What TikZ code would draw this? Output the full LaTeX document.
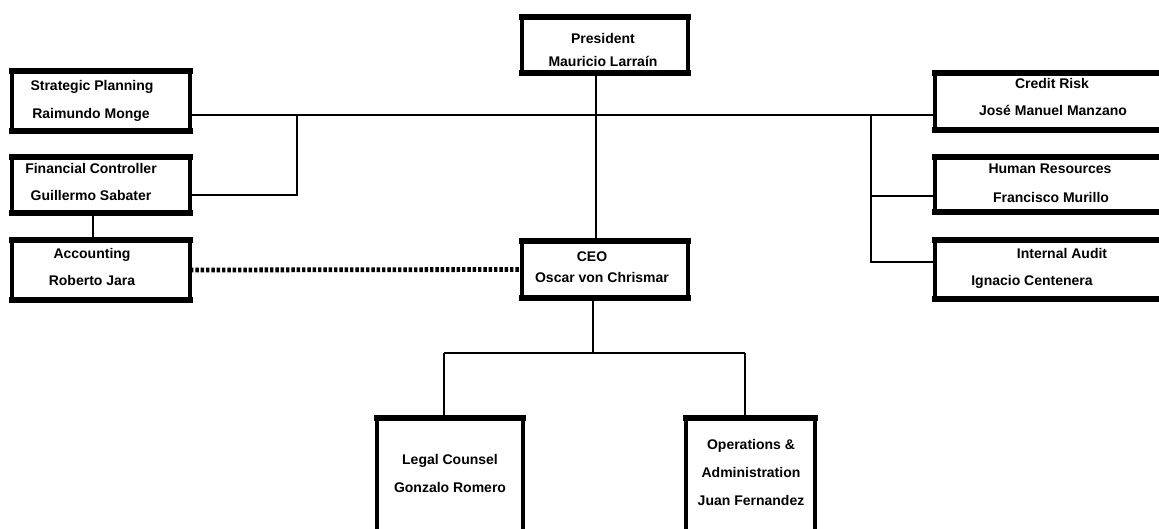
\documentclass[tikz,border=0pt]{standalone}
\usepackage{fontspec}
\setmainfont{Liberation Sans}
\usetikzlibrary{fit}
\begin{document}
\begin{tikzpicture}[x=0.75pt,y=-0.75pt,
  box/.style={draw, line width=2.6pt, inner sep=0pt, outer sep=0pt},
  bar/.style={line width=3.8pt, line cap=rect},
  txt/.style={font=\bfseries\fontsize{10.5}{12}\selectfont, inner sep=0pt, text height=7.5pt, text depth=0pt},
  conn/.style={line width=1.5pt},
  dashlink/.style={line width=3.6pt, dash pattern=on 2.6pt off 1.4pt}]
\useasboundingbox (0,0) rectangle (1159,528);
\clip (0,0) rectangle (1159,528);
% boxes
\node[box, fit={(522,17) (688,73)}] (pres) {};
\node[box, fit={(522,241) (688,298)}] (ceo) {};
\node[box, fit={(12,71) (190,131)}] (sp) {};
\node[box, fit={(12,157) (190,213)}] (fc) {};
\node[box, fit={(12,240) (190,300)}] (acc) {};
\node[box, fit={(935,73) (1185,130)}] (cr) {};
\node[box, fit={(935,157) (1185,212)}] (hr) {};
\node[box, fit={(935,240) (1185,299)}] (ia) {};
\node[box, fit={(377,418) (523,560)}] (legal) {};
\node[box, fit={(686,418) (815,560)}] (ops) {};
\foreach \n in {pres,ceo,sp,fc,acc,cr,hr,ia,legal,ops}
  \draw[bar] (\n.north west) -- (\n.north east) (\n.south west) -- (\n.south east);
% texts
\node[txt] (pres1) at (603,39) {President};
\node[txt] (pres2) at (603,62) {Mauricio Larraín};
\node[txt] (ceo1) at (592,256) {CEO};
\node[txt] (ceo2) at (602,277) {Oscar von Chrismar};
\node[txt] (sp1) at (92,85) {Strategic Planning};
\node[txt] (sp2) at (91,113) {Raimundo Monge};
\node[txt] (fc1) at (91,168) {Financial Controller};
\node[txt] (fc2) at (91,195) {Guillermo Sabater};
\node[txt] (acc1) at (92,253) {Accounting};
\node[txt] (acc2) at (92,280) {Roberto Jara};
\node[txt] (cr1) at (1052,84) {Credit Risk};
\node[txt] (cr2) at (1053,110) {José Manuel Manzano};
\node[txt] (hr1) at (1050,168) {Human Resources};
\node[txt] (hr2) at (1051,197) {Francisco Murillo};
\node[txt] (ia1) at (1062,253) {Internal Audit};
\node[txt] (ia2) at (1032,280) {Ignacio Centenera};
\node[txt] (legal1) at (450,459) {Legal Counsel};
\node[txt] (legal2) at (450,487) {Gonzalo Romero};
\node[txt] (ops1) at (751,444) {Operations \&};
\node[txt] (ops2) at (751,472) {Administration};
\node[txt] (ops3) at (751,500) {Juan Fernandez};
% junctions
\coordinate (jm) at (596,115);
\coordinate (jlft) at (297,115);
\coordinate (fcj) at (297,195);
\coordinate (fa) at (93,213);
\coordinate (jr1) at (871,115);
\coordinate (jr2) at (871,196);
\coordinate (jr3) at (871,262);
\coordinate (jb) at (593,353);
\coordinate (jl) at (444,353);
\coordinate (jrr) at (745,353);
% connectors
\draw[conn] (pres.south -| jm) -- (ceo.north -| jm);
\draw[conn] (sp.east |- jm) -- (cr.west |- jm);
\draw[conn] (jlft) -- (fcj) -- (fc.east |- fcj);
\draw[conn] (fc.south -| fa) -- (acc.north -| fa);
\draw[conn] (jr1) -- (jr3) -- (ia.west |- jr3);
\draw[conn] (jr2) -- (hr.west |- jr2);
\draw[conn] (ceo.south -| jb) -- (jb);
\draw[conn] (jl) -- (jrr);
\draw[conn] (jl) -- (legal.north -| jl);
\draw[conn] (jrr) -- (ops.north -| jrr);
\draw[dashlink] (acc.east) -- (ceo.west);
\end{tikzpicture}
\end{document}
